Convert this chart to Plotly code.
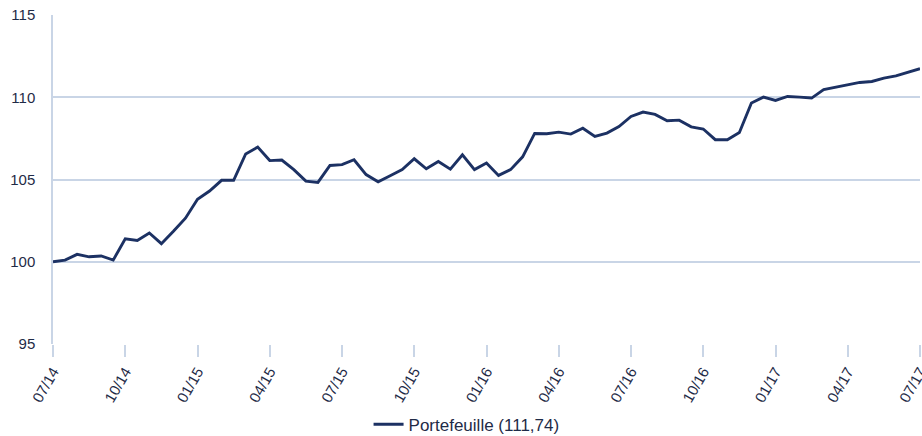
import plotly.graph_objects as go

# Semi-monthly observations from 07/14 to 07/17
values = [
    100.0, 100.1, 100.45, 100.3, 100.35, 100.1, 101.4, 101.3, 101.75, 101.1,
    101.85, 102.65, 103.8, 104.3, 104.95, 104.95, 106.55, 106.97, 106.15, 106.18,
    105.6, 104.9, 104.82, 105.85, 105.9, 106.2, 105.3, 104.86, 105.23, 105.6,
    106.26, 105.65, 106.1, 105.63, 106.5, 105.6, 106.0, 105.25, 105.6, 106.38,
    107.8, 107.78, 107.88, 107.76, 108.12, 107.62, 107.82, 108.22, 108.83, 109.1,
    108.96, 108.57, 108.61, 108.2, 108.07, 107.42, 107.42, 107.86, 109.65, 110.01,
    109.81, 110.05, 110.01, 109.95, 110.46, 110.6, 110.74, 110.9, 110.96, 111.16,
    111.3, 111.53, 111.74,
]
tick_labels = ["07/14", "10/14", "01/15", "04/15", "07/15", "10/15", "01/16",
               "04/16", "07/16", "10/16", "01/17", "04/17", "07/17"]
points_per_tick = 6
series_name = "Portefeuille (111,74)"
y_ticks = [95, 100, 105, 110, 115]

x = list(range(len(values)))
tick_vals = [i * points_per_tick for i in range(len(tick_labels))]

line_color = "#1c3163"
grid_color = "#c9d5e6"
text_color = "#1f2b47"

fig = go.Figure()
fig.add_trace(go.Scatter(
    x=x, y=values, mode="lines", name=series_name,
    line=dict(color=line_color, width=2.9),
    showlegend=True,
))

fig.update_layout(
    width=922, height=436,
    margin=dict(l=53, r=2, t=15, b=92, autoexpand=False),
    paper_bgcolor="white", plot_bgcolor="white",
    font=dict(family="Liberation Sans, Arial, sans-serif", size=14, color=text_color),
    showlegend=True,
    legend=dict(orientation="h", xref="paper", x=0.477, xanchor="center",
                yref="container", y=0.026, yanchor="middle",
                font=dict(size=17, color=text_color)),
    xaxis=dict(
        range=[0, len(values) - 1], automargin=False,
        tickmode="array", tickvals=tick_vals, ticktext=tick_labels,
        tickangle=-60, ticks="outside", ticklen=12, tickcolor=grid_color, tickwidth=1.5,
        ticklabeloverflow="allow",
        showgrid=False, zeroline=False,
        showline=False,
        tickfont=dict(size=15, color=text_color),
    ),
    yaxis=dict(
        range=[95, 115], tickmode="array", tickvals=y_ticks, automargin=False,
        showgrid=True, gridcolor=grid_color, gridwidth=1.5,
        zeroline=False, showline=True, linecolor=grid_color, linewidth=1.5,
        ticks="outside", ticklen=13, tickcolor="rgba(0,0,0,0)",
        tickfont=dict(size=15, color=text_color),
    ),
)

fig.write_html(
    "out.html",
    config={"displayModeBar": False},
    post_script="document.body.style.margin='0';document.body.style.overflow='hidden';",
)
